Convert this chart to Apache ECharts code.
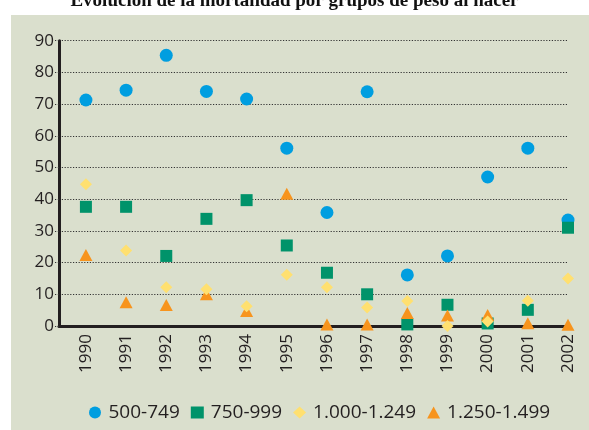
<!DOCTYPE html>
<html>
<head>
<meta charset="utf-8">
<script src="https://cdn.jsdelivr.net/npm/echarts@6/dist/echarts.min.js"></script>
<style>
  html, body { margin: 0; padding: 0; background: #fff; }
  #chart { width: 589px; height: 430px; }
</style>
</head>
<body>
<div id="chart"></div>
<script>
// años
var years = [1990, 1991, 1992, 1993, 1994, 1995, 1996, 1997, 1998, 1999, 2000, 2001, 2002]
// tasas por grupo de peso
var g500 = [71.3, 74.4, 85.4, 74.0, 71.6, 56.1, 35.8, 73.9, 16.1, 22.1, 47.0, 56.1, 33.4]
var g750 = [37.6, 37.6, 22.1, 33.8, 39.7, 25.4, 16.8, 10.0, 0.5, 6.7, 0.8, 5.1, 31.0]
var g1000 = [44.7, 23.8, 12.2, 11.6, 6.2, 16.2, 12.2, 5.8, 7.9, 0, 1.4, 8.0, 15.0]
var g1250 = [22.4, 7.5, 6.6, 10.0, 4.7, 41.7, 0.5, 0.5, 4.1, 3.3, 3.5, 0.9, 0.4]

var font = '"Open Sans", "Liberation Sans", sans-serif'
var txt = '#231f20'

function pairs (vals) {
  return vals.map((v, i) => [years[i], v])
}

var chart = echarts.init(document.getElementById('chart'), null, { renderer: 'canvas' })

var option = {
  backgroundColor: '#fff',
  animation: false,
  title: {
    text: 'Evolución de la mortalidad por grupos de peso al nacer',
    left: 'center',
    top: -13,
    textStyle: {
      fontFamily: '"Liberation Serif", serif',
      fontWeight: 'bold',
      fontSize: 19,
      color: '#111'
    }
  },
  graphic: [{
    type: 'rect',
    z: -10,
    silent: true,
    shape: { x: 11, y: 15, width: 578, height: 415 },
    style: { fill: '#dadfcd' }
  }],
  grid: { left: 59, right: 21, top: 40.7, bottom: 104 },
  legend: {
    left: 84,
    top: 398,
    itemWidth: 13,
    itemHeight: 12,
    itemGap: 11,
    textStyle: { fontFamily: font, fontSize: 19, color: txt, padding: [0, 0, 0, 2] },
    data: [
      { name: '500-749', icon: 'circle' },
      { name: '750-999', icon: 'rect' },
      { name: '1.000-1.249', icon: 'diamond' },
      { name: '1.250-1.499', icon: 'triangle' }
    ]
  },
  xAxis: {
    type: 'value',
    min: 1989.33,
    max: 2002,
    splitLine: { show: false },
    axisTick: { show: false },
    axisLine: { lineStyle: { color: txt, width: 3 } },
    axisLabel: {
      customValues: years,
      formatter: v => String(v),
      rotate: 90,
      margin: 8,
      fontFamily: font,
      fontSize: 17,
      color: txt
    }
  },
  yAxis: {
    type: 'value',
    min: 0,
    max: 90,
    interval: 10,
    axisLine: { show: true, lineStyle: { color: txt, width: 3 } },
    axisTick: { show: true, length: 4, lineStyle: { color: '#333', width: 1.2, type: [1.2, 1.6] } },
    splitLine: { show: true, lineStyle: { color: '#333', width: 1.2, type: [1.2, 1.6] } },
    axisLabel: {
      margin: 5,
      fontFamily: font,
      fontSize: 17,
      color: txt
    }
  },
  series: [
    {
      name: '500-749',
      type: 'scatter',
      symbol: 'circle',
      symbolSize: 13,
      z: 2,
      itemStyle: { color: '#009ee0', opacity: 1 },
      data: pairs(g500)
    },
    {
      name: '750-999',
      type: 'scatter',
      symbol: 'rect',
      symbolSize: 12,
      z: 3,
      itemStyle: { color: '#00936a', opacity: 1 },
      data: pairs(g750)
    },
    {
      name: '1.000-1.249',
      type: 'scatter',
      symbol: 'diamond',
      symbolSize: [12, 12],
      z: 5,
      itemStyle: { color: '#ffe070', opacity: 1 },
      data: pairs(g1000)
    },
    {
      name: '1.250-1.499',
      type: 'scatter',
      symbol: 'triangle',
      symbolSize: [13, 12],
      z: 4,
      itemStyle: { color: '#f7941d', opacity: 1 },
      data: pairs(g1250)
    }
  ]
}

chart.setOption(option)
</script>
</body>
</html>
